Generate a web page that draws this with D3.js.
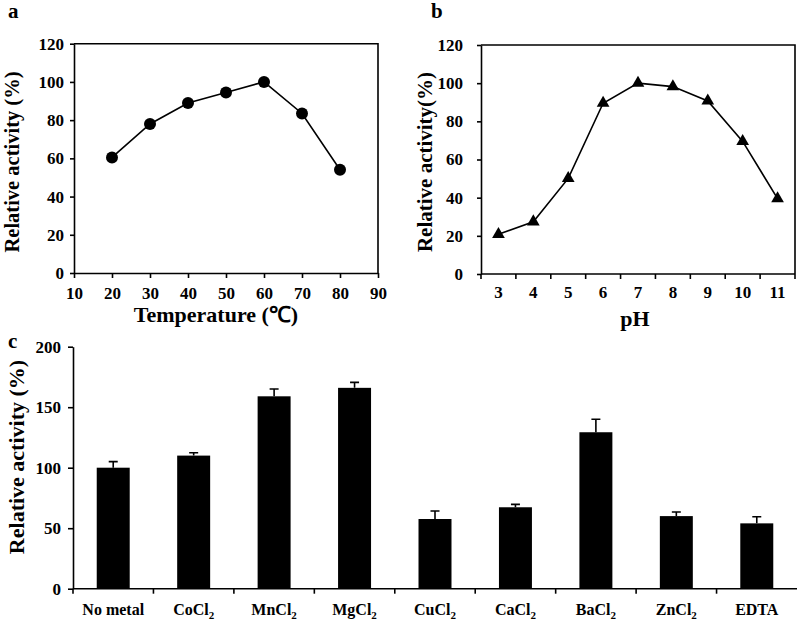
<!DOCTYPE html>
<html>
<head>
<meta charset="utf-8">
<script src="https://cdn.jsdelivr.net/npm/d3@7"></script>
<style>
html,body{margin:0;padding:0;background:#fff;}
svg{display:block;}
text{font-family:"Liberation Serif","Times New Roman",serif;font-weight:bold;fill:#000;}
</style>
</head>
<body>
<svg id="chart" width="797" height="623"></svg>
<script>
// ---- Data ----
const tempX = [20, 30, 40, 50, 60, 70, 80];
const tempY = [60.5, 78, 89, 94.5, 100, 83.5, 54];
const tempTicksX = [10, 20, 30, 40, 50, 60, 70, 80, 90];
const yTicksAB = [0, 20, 40, 60, 80, 100, 120];

const phX = ["3", "4", "5", "6", "7", "8", "9", "10", "11"];
const phY = [20.8, 27.4, 50.1, 89.5, 100, 98.2, 90.7, 69.5, 39.5];

const metalNames = ["No metal", "CoCl", "MnCl", "MgCl", "CuCl", "CaCl", "BaCl", "ZnCl", "EDTA"];
const metalSub = ["", "2", "2", "2", "2", "2", "2", "2", ""];
const metalVals = [100, 110, 159, 166, 57.6, 67.3, 129.3, 60, 54];
const metalErr = [5, 2.4, 6, 4.5, 6.6, 2.4, 10.7, 3.4, 5.5];
const yTicksC = [0, 50, 100, 150, 200];

const svg = d3.select("#chart");
const AX = 1.6;
const TICKFS = "17px";

// ---- Panel a ----
{
  const x = d3.scaleLinear().domain([10, 90]).range([74, 378]);
  const y = d3.scaleLinear().domain([0, 120]).range([273, 43.7]);
  const g = svg.append("g");
  g.append("path").attr("d", `M${x(10)},${y(120)}H${x(90)}V${y(0)}`).attr("fill","none").attr("stroke","#000").attr("stroke-width",AX);
  const xa = g.append("g").attr("transform", `translate(0,${y(0)})`)
    .call(d3.axisBottom(x).tickValues(tempTicksX).tickSize(5).tickPadding(9).tickSizeOuter(0));
  const ya = g.append("g").attr("transform", `translate(${x(10)},0)`)
    .call(d3.axisLeft(y).tickValues(yTicksAB).tickSize(4).tickPadding(6).tickSizeOuter(0));
  [xa, ya].forEach(a => {
    a.select(".domain").attr("stroke-width", AX);
    a.selectAll(".tick line").attr("stroke-width", AX);
    a.selectAll("text").style("font-size",TICKFS).style("font-family","Liberation Serif").style("font-weight","bold");
  });
  const line = d3.line().x((d,i)=>x(tempX[i])).y(d=>y(d));
  g.append("path").datum(tempY).attr("d", line).attr("fill","none").attr("stroke","#000").attr("stroke-width",1.6);
  g.selectAll("circle").data(tempY).join("circle")
    .attr("cx",(d,i)=>x(tempX[i])).attr("cy",d=>y(d)).attr("r",6).attr("fill","#000");
  g.append("text").attr("x",216).attr("y",322).attr("text-anchor","middle").style("font-size","22px").text("Temperature (℃)");
  g.append("text").attr("transform","translate(19,162) rotate(-90)").attr("text-anchor","middle").style("font-size","20.5px").text("Relative activity (%)");
  g.append("text").attr("x",8).attr("y",18).style("font-size","21px").text("a");
}

// ---- Panel b ----
{
  const x = d3.scaleBand().domain(phX).range([481, 795]);
  const y = d3.scaleLinear().domain([0, 120]).range([274, 45]);
  const g = svg.append("g");
  g.append("path").attr("d", `M481,${y(120)}H795V${y(0)}`).attr("fill","none").attr("stroke","#000").attr("stroke-width",AX);
  g.append("line").attr("x1",481).attr("x2",795).attr("y1",y(0)).attr("y2",y(0)).attr("stroke","#000").attr("stroke-width",AX);
  const bounds = phX.map(c => x(c)).concat([795]);
  g.selectAll(".bt").data(bounds).join("line").attr("class","bt")
    .attr("x1",d=>d).attr("x2",d=>d).attr("y1",y(0)).attr("y2",y(0)+5).attr("stroke","#000").attr("stroke-width",AX);
  g.selectAll(".bl").data(phX).join("text").attr("class","bl")
    .attr("x",d=>x(d)+x.bandwidth()/2).attr("y",298).attr("text-anchor","middle").style("font-size",TICKFS).text(d=>d);
  const ya = g.append("g").attr("transform",`translate(481,0)`)
    .call(d3.axisLeft(y).tickValues(yTicksAB).tickSize(4).tickPadding(14).tickSizeOuter(0));
  ya.select(".domain").attr("stroke-width",AX);
  ya.selectAll(".tick line").attr("stroke-width",AX);
  ya.selectAll("text").style("font-size",TICKFS).style("font-family","Liberation Serif").style("font-weight","bold");
  const cx = d => x(d) + x.bandwidth()/2;
  const line = d3.line().x((d,i)=>cx(phX[i])).y(d=>y(d));
  g.append("path").datum(phY).attr("d",line).attr("fill","none").attr("stroke","#000").attr("stroke-width",1.6);
  const tri = d3.symbol().type(d3.symbolTriangle).size(70);
  g.selectAll(".tri").data(phY).join("path").attr("class","tri")
    .attr("d",tri).attr("transform",(d,i)=>`translate(${cx(phX[i])},${y(d)})`).attr("fill","#000");
  g.append("text").attr("x",635).attr("y",326).attr("text-anchor","middle").style("font-size","22px").text("pH");
  g.append("text").attr("transform","translate(432,162) rotate(-90)").attr("text-anchor","middle").style("font-size","21px").text("Relative activity(%)");
  g.append("text").attr("x",431).attr("y",18).style("font-size","21px").text("b");
}

// ---- Panel c ----
{
  const x = d3.scaleBand().domain(metalNames).range([73, 797]);
  const y = d3.scaleLinear().domain([0, 200]).range([588.7, 346.7]);
  const g = svg.append("g");
  const bw = x.bandwidth()*0.41;
  const cx = d => x(d) + x.bandwidth()/2;
  g.selectAll(".bar").data(metalVals).join("rect").attr("class","bar")
    .attr("x",(d,i)=>cx(metalNames[i])-bw/2).attr("width",bw)
    .attr("y",d=>y(d)).attr("height",d=>y(0)-y(d)).attr("fill","#000");
  g.selectAll(".eb").data(metalVals).join("path").attr("class","eb")
    .attr("d",(d,i)=>{const c=cx(metalNames[i]); const t=y(d+metalErr[i]); return `M${c},${y(d)}V${t}M${c-4.5},${t}H${c+4.5}`;})
    .attr("fill","none").attr("stroke","#000").attr("stroke-width",1.6);
  g.append("line").attr("x1",73).attr("x2",797).attr("y1",y(0)).attr("y2",y(0)).attr("stroke","#000").attr("stroke-width",AX);
  const bounds = metalNames.map(c => x(c));
  g.selectAll(".bt").data(bounds).join("line").attr("class","bt")
    .attr("x1",d=>d).attr("x2",d=>d).attr("y1",y(0)).attr("y2",y(0)+5).attr("stroke","#000").attr("stroke-width",AX);
  const lab = g.selectAll(".bl").data(metalNames).join("text").attr("class","bl")
    .attr("x",d=>cx(d)).attr("y",615).attr("text-anchor","middle").style("font-size","16px");
  lab.append("tspan").text(d=>d);
  lab.append("tspan").attr("dy",4).style("font-size","11px").text((d,i)=>metalSub[i]);
  const ya = g.append("g").attr("transform",`translate(73,0)`)
    .call(d3.axisLeft(y).tickValues(yTicksC).tickSize(5).tickPadding(7).tickSizeOuter(0));
  ya.select(".domain").attr("stroke-width",AX);
  ya.selectAll(".tick line").attr("stroke-width",AX);
  ya.selectAll("text").style("font-size",TICKFS).style("font-family","Liberation Serif").style("font-weight","bold");
  g.append("text").attr("transform","translate(24,457) rotate(-90)").attr("text-anchor","middle").style("font-size","22px").text("Relative activity (%)");
  g.append("text").attr("x",8).attr("y",348).style("font-size","21px").text("c");
}
</script>
</body>
</html>
